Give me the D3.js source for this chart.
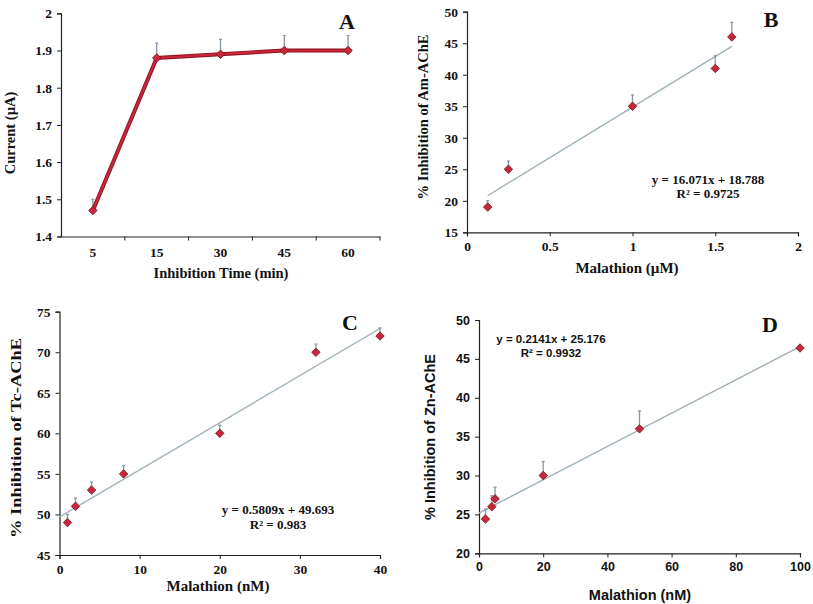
<!DOCTYPE html>
<html>
<head>
<meta charset="utf-8">
<script src="https://cdn.jsdelivr.net/npm/d3@7"></script>
<style>
body { margin: 0; background: #fff; }
svg { display: block; }
</style>
</head>
<body>
<svg id="chart" width="813" height="604"></svg>
<script>
// panel A - current vs inhibition time
const timeCats = ["5", "15", "30", "45", "60"];
const currentVals = [1.47, 1.88, 1.89, 1.90, 1.90];
const currentErr = [0.03, 0.04, 0.04, 0.04, 0.04];
const currentTicks = [1.4, 1.5, 1.6, 1.7, 1.8, 1.9, 2];

// panel B - Am-AChE
const amX = [0.125, 0.25, 1, 1.5, 1.6];
const amY = [19, 25, 35, 41, 46];
const amErr = [1, 1.3, 1.8, 2, 2.3];
const amFit = [16.071, 18.788];

// panel C - Tc-AChE
const tcX = [1, 2, 4, 8, 20, 32, 40];
const tcY = [49, 51, 53, 55, 60, 70, 72];
const tcErr = [1, 1, 1, 1, 1, 1, 1];
const tcFit = [0.5809, 49.693];

// panel D - Zn-AChE
const znX = [2, 4, 5, 20, 50, 100];
const znY = [24.4, 26, 27, 30, 36, 46.4];
const znErr = [1.3, 1.4, 1.5, 1.8, 2.3, 0];
const znFit = [0.2141, 25.176];

const svg = d3.select("#chart");
const serif = "'Liberation Serif', 'Times New Roman', serif";
const sans = "'Liberation Sans', Arial, sans-serif";
const errColor = "#8797a3";
const fitColor = "#9aafb5";
const markFill = "#c8283c";
const markEdge = "#7a1020";

function styleAxis(g, font, size) {
    g.select(".domain").attr("stroke", "#222").attr("stroke-width", 1.2);
    g.selectAll(".tick line").attr("stroke", "#222");
    g.selectAll(".tick text").attr("fill", "#111")
        .style("font-family", font).style("font-size", size + "px").style("font-weight", "bold");
}

function diamonds(g, pts) {
    g.selectAll("path.mk").data(pts).enter().append("path")
        .attr("class", "mk")
        .attr("d", d3.symbol().type(d3.symbolDiamond2).size(46))
        .attr("transform", d => "translate(" + d[0] + "," + d[1] + ")")
        .attr("fill", markFill).attr("stroke", markEdge).attr("stroke-width", 0.8);
}

function errBars(g, pts) {
    pts.forEach(p => {
        if (p[1] == p[2]) return;
        g.append("line").attr("x1", p[0]).attr("x2", p[0]).attr("y1", p[1]).attr("y2", p[2])
            .attr("stroke", errColor).attr("stroke-width", 1.3);
        g.append("line").attr("x1", p[0] - 1.5).attr("x2", p[0] + 1.5).attr("y1", p[2]).attr("y2", p[2])
            .attr("stroke", errColor).attr("stroke-width", 1.3);
    });
}

function label(txt, x, y, font, size, rot) {
    const t = svg.append("text").text(txt)
        .attr("text-anchor", "middle")
        .style("font-family", font).style("font-size", size + "px").style("font-weight", "bold")
        .attr("fill", "#111");
    if (rot) t.attr("transform", "translate(" + x + "," + y + ") rotate(-90)");
    else t.attr("x", x).attr("y", y);
    return t;
}

// ---------- A ----------
{
    const x = d3.scaleBand().domain(timeCats).range([61, 380]);
    const y = d3.scaleLinear().domain([1.4, 2]).range([236.5, 13.3]);
    const gy = svg.append("g").attr("transform", "translate(61,0)")
        .call(d3.axisLeft(y).tickValues(currentTicks).tickFormat(d3.format("")).tickSize(4).tickPadding(5));
    styleAxis(gy, serif, 13.5);
    const gx = svg.append("g").attr("transform", "translate(0,236.5)")
        .call(d3.axisBottom(x).tickSize(0).tickPadding(11));
    styleAxis(gx, serif, 13.5);
    // category dividers
    gx.selectAll(".sep").data(timeCats).enter().append("line")
        .attr("x1", d => x(d) + x.bandwidth()).attr("x2", d => x(d) + x.bandwidth())
        .attr("y1", 0).attr("y2", 4).attr("stroke", "#222");
    const pts = timeCats.map((c, i) => [x(c) + x.bandwidth() / 2, y(currentVals[i]), y(currentVals[i] + currentErr[i])]);
    const g = svg.append("g");
    errBars(g, pts);
    g.append("path").datum(pts)
        .attr("d", d3.line().x(d => d[0]).y(d => d[1]))
        .attr("fill", "none").attr("stroke", "#8c1020").attr("stroke-width", 4);
    g.append("path").datum(pts)
        .attr("d", d3.line().x(d => d[0]).y(d => d[1]))
        .attr("fill", "none").attr("stroke", "#c8283c").attr("stroke-width", 2.2);
    diamonds(g, pts);
    label("Current (µA)", 15, 133, serif, 14.5, true);
    label("Inhibition Time (min)", 221, 278, serif, 14.5);
    label("A", 347, 29, serif, 22);
}

// ---------- B ----------
{
    const x = d3.scaleLinear().domain([0, 2]).range([467, 798]);
    const y = d3.scaleLinear().domain([15, 50]).range([232.3, 11.7]);
    const gy = svg.append("g").attr("transform", "translate(467,0)")
        .call(d3.axisLeft(y).ticks(7).tickSize(4).tickPadding(5));
    styleAxis(gy, serif, 13.5);
    const gx = svg.append("g").attr("transform", "translate(0,232.3)")
        .call(d3.axisBottom(x).ticks(4).tickFormat(d3.format("")).tickSize(4).tickPadding(5));
    styleAxis(gx, serif, 13.5);
    const g = svg.append("g");
    const fx = [amX[0], amX[amX.length - 1]];
    g.append("line").attr("x1", x(fx[0])).attr("x2", x(fx[1]))
        .attr("y1", y(amFit[0] * fx[0] + amFit[1])).attr("y2", y(amFit[0] * fx[1] + amFit[1]))
        .attr("stroke", fitColor).attr("stroke-width", 1.3);
    const pts = amX.map((v, i) => [x(v), y(amY[i]), y(amY[i] + amErr[i])]);
    errBars(g, pts);
    diamonds(g, pts);
    label("y = 16.071x + 18.788", 708, 184, serif, 13);
    label("R² = 0.9725", 708, 198, serif, 13);
    label("% Inhibition of  Am-AChE", 428, 117, serif, 14.5, true);
    label("Malathion (µM)", 627, 273, serif, 15);
    label("B", 771, 27, serif, 22);
}

// ---------- C ----------
{
    const x = d3.scaleLinear().domain([0, 40]).range([59.5, 380]);
    const y = d3.scaleLinear().domain([45, 75]).range([555, 311.7]);
    const gy = svg.append("g").attr("transform", "translate(59.5,0)")
        .call(d3.axisLeft(y).ticks(6).tickSize(4).tickPadding(5));
    styleAxis(gy, serif, 13.5);
    const gx = svg.append("g").attr("transform", "translate(0,555)")
        .call(d3.axisBottom(x).ticks(4).tickSize(4).tickPadding(5));
    styleAxis(gx, serif, 13.5);
    const g = svg.append("g");
    const fx = [0, 40];
    g.append("line").attr("x1", x(fx[0])).attr("x2", x(fx[1]))
        .attr("y1", y(tcFit[0] * fx[0] + tcFit[1])).attr("y2", y(tcFit[0] * fx[1] + tcFit[1]))
        .attr("stroke", fitColor).attr("stroke-width", 1.3);
    const pts = tcX.map((v, i) => [x(v), y(tcY[i]), y(tcY[i] + tcErr[i])]);
    errBars(g, pts);
    diamonds(g, pts);
    label("y = 0.5809x + 49.693", 278, 514, serif, 13);
    label("R² = 0.983", 278, 529, serif, 13);
    label("% Inhibition of  Tc-AChE", 21, 438, serif, 15, true)
        .attr("textLength", 200).attr("lengthAdjust", "spacingAndGlyphs");
    label("Malathion (nM)", 218, 591, serif, 15);
    label("C", 350, 330, serif, 22);
}

// ---------- D ----------
{
    const x = d3.scaleLinear().domain([0, 100]).range([479, 800]);
    const y = d3.scaleLinear().domain([20, 50]).range([553.3, 320]);
    const gy = svg.append("g").attr("transform", "translate(479,0)")
        .call(d3.axisLeft(y).ticks(6).tickSize(4).tickPadding(5));
    styleAxis(gy, sans, 12.5);
    const gx = svg.append("g").attr("transform", "translate(0,553.3)")
        .call(d3.axisBottom(x).ticks(5).tickSize(4).tickPadding(5));
    styleAxis(gx, sans, 12.5);
    const g = svg.append("g");
    const fx = [0, 100];
    g.append("line").attr("x1", x(fx[0])).attr("x2", x(fx[1]))
        .attr("y1", y(znFit[0] * fx[0] + znFit[1])).attr("y2", y(znFit[0] * fx[1] + znFit[1]))
        .attr("stroke", fitColor).attr("stroke-width", 1.3);
    const pts = znX.map((v, i) => [x(v), y(znY[i]), y(znY[i] + znErr[i])]);
    errBars(g, pts);
    diamonds(g, pts);
    label("y = 0.2141x + 25.176", 551, 343, sans, 11.5);
    label("R² = 0.9932", 551, 357, sans, 11.5);
    label("% Inhibition of Zn-AChE", 435, 437, sans, 14.5, true);
    label("Malathion (nM)", 640, 600, sans, 14.5);
    label("D", 770, 332, serif, 22);
}
</script>
</body>
</html>
